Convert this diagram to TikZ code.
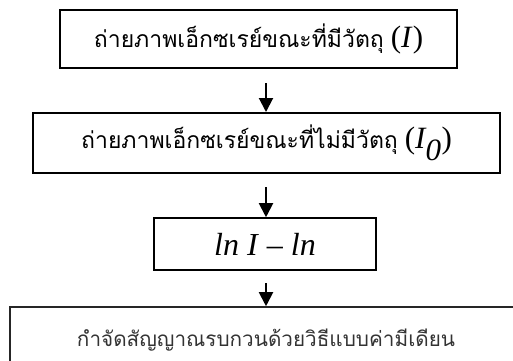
\documentclass[tikz,border=0pt]{standalone}
\usepackage{fontspec}
\setmainfont{Liberation Serif}
\newfontfamily\thaifont[Script=Thai]{Loma}
\usetikzlibrary{arrows.meta,calc}
\begin{document}
\begin{tikzpicture}[x=1pt,y=1pt,
  box/.style={draw=black,line width=2pt,inner sep=0pt,align=center},
  arr/.style={line width=2pt,-{Triangle[width=14pt,length=14pt]}}]
\useasboundingbox (0,0) rectangle (513,-360);
\node[box,minimum width=397pt,minimum height=58pt] (b1) at (258.5,-39)
  {{\thaifont\fontsize{23}{26}\selectfont ถ่ายภาพเอ็กซเรย์ขณะที่มีวัตถุ}\hspace{7pt}{\fontsize{31}{34}\selectfont(\textit{I})}};
\node[box,minimum width=467pt,minimum height=60pt] (b2) at (266.5,-143)
  {{\thaifont\fontsize{23}{26}\selectfont ถ่ายภาพเอ็กซเรย์ขณะที่ไม่มีวัตถุ}\hspace{7pt}{\fontsize{31}{34}\selectfont(\textit{I$_{\textit{0}}$})}};
\node[box,line width=1.6pt,minimum width=222pt,minimum height=52pt] (b3) at (265,-244)
  {\fontsize{32}{36}\selectfont\textit{ln I} – \textit{ln}};
\node[box,draw=black!85,line width=1.6pt,minimum width=512pt,minimum height=66pt,text=black!80] (b4) at (266,-340)
  {\thaifont\fontsize{20.7}{24}\selectfont กำจัดสัญญาณรบกวนด้วยวิธีแบบค่ามีเดียน};
\coordinate (s1) at (266,-83);
\coordinate (s2) at (266,-187);
\coordinate (s3) at (266,-283);
\draw[arr] (s1) -- (s1 |- b2.north);
\draw[arr] (s2) -- (s2 |- b3.north);
\draw[arr] (s3) -- (s3 |- b4.north);
\end{tikzpicture}
\end{document}
